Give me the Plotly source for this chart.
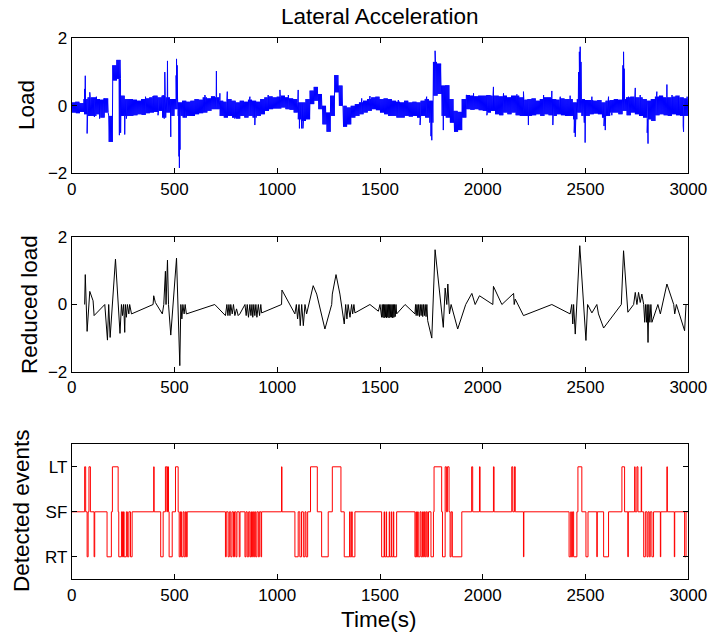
import plotly.graph_objects as go

# ---------------- data ----------------
# Load: band of the noisy trace, upper / lower edge read every 20 s
load_bin_t = list(range(0, 3000, 20))
load_hi = [
    .10, .12, .08, .20, .25, .25, .20, .18, .22, -.30, 1.20, 1.36, .30, .20, .20, .18, .15, .20, .22, .25, .30, .25, .30, .25, .20,
    .20, .10, .15, .12, .15, .20, .18, .25, .22, .28, .25, .15, .12, .20, .15, .10, .15, .12, .18, .15, .12, .20, .25, .28, .25,
    .27, .30, .25, .22, .20, .10, .10, .20, .45, .56, .35, .00, -.20, .30, .91, .60, .00, -.05, .00, .05, .10, .15, .20, .25, .27,
    .20, .22, .20, .15, .12, .10, .15, .10, .12, .10, .15, .20, .15, 1.30, 1.25, .60, .61, .20, -.15, -.18, .20, .32, .30, .28, .30,
    .30, .32, .30, .30, .28, .30, .25, .30, .30, .25, .18, .20, .22, .15, .20, .25, .25, .20, .18, .22, .20, .20, .10, .20, .20,
    .17, .17, .15, .17, .10, .15, .17, .20, .18, .20, .25, .27, .25, .25, .20, .15, .20, .27, .30, .25, .25, .27, .30, .25, .22,
]
load_lo = [
    -.20, -.22, -.18, -.25, -.30, -.30, -.25, -.35, -.20, -1.07, .75, .80, -.30, -.30, -.30, -.28, -.25, -.27, -.22, -.20, -.18, -.15, -.35, -.20, -.30,
    -.10, -.30, -.35, -.30, -.30, -.25, -.22, -.20, -.15, -.10, -.10, -.30, -.35, -.30, -.35, -.38, -.30, -.35, -.30, -.35, -.30, -.25, -.15, -.10, -.08,
    -.08, -.05, -.10, -.12, -.20, -.40, -.45, -.40, .05, .15, -.10, -.55, -.77, -.30, .40, .00, -.62, -.55, -.35, -.30, -.25, -.20, -.15, -.10, -.13,
    -.20, -.25, -.30, -.30, -.35, -.35, -.30, -.32, -.30, -.35, -.30, -.35, -.50, .30, .35, -.30, -.35, -.50, -.77, -.72, -.35, -.10, -.12, -.10, -.13,
    -.15, -.20, -.15, -.25, -.28, -.20, -.25, -.20, -.28, -.30, -.30, -.30, -.28, -.25, -.30, -.25, -.28, -.30, -.25, -.28, -.30, -.30, -.40, -.20, -.30,
    -.30, -.25, -.23, -.25, -.35, -.30, -.20, -.20, -.25, -.15, -.28, -.20, -.25, -.30, -.35, -.40, -.45, -.28, -.25, -.28, -.30, -.25, -.28, -.30, -.30,
]
load_end = 0.10
# Load: isolated spikes (time, value)
spike_t = [63, 66, 75, 88, 110, 120, 136, 157, 232, 238, 250, 258, 266, 359, 396, 420, 445, 450, 453, 466, 482,
           508, 510, 513, 518, 522, 524, 527, 550, 648, 704, 721, 757, 794, 867, 891, 956, 1013, 1054,
           1102, 1108, 1119, 1125, 1411, 1451, 1589, 1695, 1727, 1748, 1752, 1768, 1795, 1808,
           1922, 1955, 2020, 2052, 2101, 2166, 2198, 2222, 2296, 2336, 2341, 2377, 2425,
           2445, 2450, 2466, 2470, 2474, 2478, 2494, 2498, 2531, 2590, 2596, 2612, 2628,
           2682, 2685, 2688, 2709, 2742, 2766, 2800, 2804, 2847, 2896, 2921, 2953, 2975, 2977, 2994]
spike_v = [.50, .89, -.82, .40, -.33, .27, -.38, .22, -.87, -.80, .27, -.85, -.38, .27, .29, -.28, .32, -.38, 1.00, 1.33, -.92,
           .90, 1.39, 1.20, -.30, -1.50, -1.84, -1.30, -.33, .32, 1.03, .37, .42, -.38, .27, -.57, .32, .47, .32,
           .47, -.67, -.67, -.67, .22, .29, .17, -.57, .27, -.90, -1.02, 1.63, 1.16, -.72,
           .32, .37, -.28, .56, .37, .34, .42, -.57, .32, .44, -.57, .27, .30,
           -.80, -.92, 1.00, 1.60, 1.75, 1.30, -.50, -1.09, .27, -.60, -.72, .27, -.28,
           1.20, 1.60, 1.10, .27, .53, .32, -.80, -1.12, .42, .63, .32, .27, -.60, -.77, .27]

# Reduced load: (time, value) knots
red_t = [63, 66, 75, 88, 104, 109, 161, 174, 180, 187, 213, 235, 242, 247, 252, 255, 258, 261, 266, 271, 278, 282, 291,
         396, 399, 407, 441, 448, 456, 459, 466, 471, 482, 510, 526, 531, 536, 541, 547, 552, 558,
         696, 748, 755, 760, 765, 770, 774, 781, 787, 794, 802, 810, 818, 843, 849, 854, 860, 867, 872, 877, 881, 886, 891, 896, 901, 908, 914, 920, 924,
         1021, 1023, 1086, 1093, 1099, 1106, 1112, 1119, 1127, 1135, 1143, 1175, 1192, 1232, 1265, 1268, 1286, 1305, 1326, 1333, 1339, 1345, 1354, 1362, 1367, 1373, 1378,
         1451, 1492, 1500, 1508, 1511, 1514, 1517, 1520, 1523, 1526, 1529, 1532, 1535, 1538, 1541, 1544, 1547, 1550, 1553, 1556, 1559, 1562, 1565, 1568, 1571, 1574, 1578, 1581,
         1622, 1670, 1673, 1676, 1680, 1684, 1688, 1692, 1696, 1700, 1704, 1708, 1712, 1716, 1720, 1724, 1728, 1732, 1752, 1768, 1808, 1817, 1825, 1830, 1838, 1846, 1878,
         1917, 1947, 1963, 1984, 2049, 2052, 2093, 2150, 2153, 2158, 2198, 2336, 2425, 2433, 2438, 2442, 2450, 2472, 2502, 2510, 2531, 2555, 2563, 2588,
         2674, 2685, 2706, 2734, 2742, 2750, 2758, 2766, 2774, 2783, 2788, 2792, 2797, 2800, 2804, 2808, 2813, 2818, 2823, 2852, 2864, 2896, 2929, 2934, 2942, 2982, 2989, 3000]
red_v = [0.0, 0.89, -0.80, 0.39, 0.11, -0.33, 0.0, -1.06, 0.0, -0.98, 1.35, -0.86, 0.0, -0.33, 0.0, -0.33, -0.83, 0.0, -0.38, 0.0, -0.28, 0.0, -0.28,
         0.0, 0.26, 0.06, -0.28, 0.0, 0.99, 0.0, 1.32, 0.0, -0.91, 1.38, -1.82, 0.0, -0.43, 0.0, -0.28, 0.0, -0.28,
         0.0, -0.33, 0.0, -0.33, 0.0, -0.33, 0.0, -0.28, 0.0, -0.33, -0.13, -0.33, -0.28, 0.0, -0.33, 0.0, -0.38, 0.0, -0.33, 0.0, -0.38, 0.0, -0.33, 0.0, -0.38, 0.0, -0.33, 0.0, -0.25,
         0.0, 0.43, -0.28, 0.0, -0.43, 0.0, -0.63, 0.0, -0.63, 0.0, -0.28, 0.56, 0.31, -0.73, 0.0, 0.31, 0.89, 0.31, -0.58, 0.0, -0.43, 0.0, -0.38, 0.0, -0.28, 0.0, -0.25,
         0.0, -0.20, 0.0, -0.38, 0.0, -0.38, 0.0, -0.40, 0.0, -0.38, 0.0, -0.40, 0.0, -0.38, 0.0, -0.40, 0.0, -0.38, 0.0, -0.38, 0.0, -0.40, 0.0, -0.38, 0.0, -0.36, 0.0, -0.28,
         0.0, -0.28, 0.0, -0.33, 0.0, -0.33, 0.0, -0.36, 0.0, -0.33, 0.0, -0.36, 0.0, -0.33, 0.0, -0.36, 0.0, -0.48, -1.00, 1.63, -0.68, 0.49, 0.0, 0.61, -0.28, 0.0, -0.73,
         0.0, 0.33, 0.0, 0.26, 0.0, 0.54, 0.0, 0.33, 0.0, 0.16, -0.33, 0.0, -0.28, 0.0, -0.58, 0.0, -0.88, 1.75, -1.07, 0.0, -0.25, 0.0, -0.28, -0.70,
         0.0, 1.60, -0.23, 0.0, 0.36, 0.0, 0.36, 0.06, 0.31, 0.0, -0.53, 0.0, -0.53, 0.0, -1.13, 0.0, -0.53, 0.0, -0.53, 0.0, -0.28, 0.61, 0.0, -0.28, 0.0, -0.78, 0.0, 0.0]

# Detected events: start, end, level (1 = LT, 0 = SF, -1 = RT)
ev_start = [63, 75, 84, 109, 172, 198, 229, 247, 255, 271, 286, 399, 433, 456, 466, 474, 505, 523, 534, 547, 558,
            748, 761, 774, 787, 799, 815, 843, 854, 867, 875, 885, 895, 908, 921, 1021, 1086, 1110, 1127, 1140,
            1162, 1216, 1268, 1326, 1355, 1365,
            1508, 1522, 1532, 1547, 1557, 1567, 1670, 1677, 1686, 1700, 1711, 1720, 1730, 1748, 1763, 1804, 1817, 1828,
            1841, 1852, 1946, 1984, 2052, 2141, 2154, 2198, 2420, 2431, 2442, 2463, 2502, 2555, 2588, 2677, 2706,
            2739, 2750, 2771, 2783, 2799, 2810, 2823, 2864, 2896, 2932, 2982]
ev_end = [68, 80, 91, 112, 193, 226, 242, 252, 266, 278, 294, 401, 445, 463, 471, 489, 518, 529, 542, 553, 562,
          752, 767, 780, 792, 804, 819, 848, 861, 872, 880, 890, 901, 913, 924, 1023, 1102, 1118, 1135, 1148,
          1195, 1248, 1310, 1352, 1362, 1378,
          1520, 1530, 1545, 1555, 1565, 1581, 1675, 1683, 1695, 1707, 1716, 1725, 1736, 1760, 1800, 1817, 1823, 1836,
          1846, 1898, 1951, 1987, 2055, 2146, 2158, 2200, 2428, 2437, 2458, 2482, 2512, 2557, 2612, 2690, 2708,
          2741, 2755, 2773, 2791, 2804, 2815, 2831, 2866, 2898, 2934, 2989]
ev_level = [1, -1, 1, -1, -1, 1, -1, -1, -1, -1, -1, 1, -1, 1, 1, -1, 1, -1, -1, -1, -1,
            -1, -1, -1, -1, -1, -1, -1, -1, -1, -1, -1, -1, -1, -1, 1, -1, -1, -1, -1,
            1, -1, 1, -1, -1, -1,
            -1, -1, -1, -1, -1, -1, -1, -1, -1, -1, -1, -1, -1, -1, 1, -1, 1, 1,
            -1, -1, 1, 1, 1, 1, 1, -1, -1, -1, -1, 1, -1, -1, -1, 1, -1,
            1, 1, 1, -1, -1, -1, -1, -1, 1, -1, -1]

x_ticks = [0, 500, 1000, 1500, 2000, 2500, 3000]
event_ticks = [-1, 0, 1]
event_labels = ["RT", "SF", "LT"]

# ---------------- build traces ----------------
pts = []
for t, h, l in zip(load_bin_t, load_hi, load_lo):
    for k in range(4):
        pts.append((t + 5 * k, h))
        pts.append((t + 5 * k + 2.5, l))
pts += list(zip(spike_t, spike_v))
pts.append((3000, load_end))
pts.sort(key=lambda p: p[0])
lx = [p[0] for p in pts]
ly = [p[1] for p in pts]

sx, sy = [0], [0]
for s, e, v in zip(ev_start, ev_end, ev_level):
    sx += [s, s, e, e]
    sy += [0, v, v, 0]
sx.append(3000)
sy.append(0)

FONT = "Liberation Sans, Arial, Helvetica, sans-serif"

fig = go.Figure()
fig.add_trace(go.Scatter(x=lx, y=ly, mode="lines",
                         line=dict(color="#0000ff", width=1, simplify=False),
                         xaxis="x", yaxis="y", showlegend=False))
fig.add_trace(go.Scatter(x=red_t, y=red_v, mode="lines",
                         line=dict(color="#000000", width=1, simplify=False),
                         xaxis="x2", yaxis="y2", showlegend=False))
fig.add_trace(go.Scatter(x=sx, y=sy, mode="lines",
                         line=dict(color="#ff0000", width=1, simplify=False),
                         xaxis="x3", yaxis="y3", showlegend=False))

xdom = [71.7 / 710, 688.3 / 710]
def ydom(top, bot):
    return [(635 - bot) / 635, (635 - top) / 635]

common = dict(showline=True, linecolor="black", linewidth=1, mirror="ticks", ticks="inside",
              ticklen=5, tickcolor="black", showgrid=False, zeroline=False,
              tickfont=dict(size=17, color="black", family=FONT), automargin=False)

xcommon = dict(common, range=[0, 3000], tickvals=x_ticks, domain=xdom)

TSIZE = 22.5
fig.update_layout(
    width=710, height=635,
    margin=dict(l=0, r=0, t=0, b=0),
    paper_bgcolor="white", plot_bgcolor="white",
    font=dict(family=FONT, color="black"),
    xaxis=dict(xcommon, anchor="y"),
    yaxis=dict(common, range=[-2, 2], tickvals=[-2, 0, 2], domain=ydom(38.3, 173.3), anchor="x"),
    xaxis2=dict(xcommon, anchor="y2"),
    yaxis2=dict(common, range=[-2, 2], tickvals=[-2, 0, 2], domain=ydom(237.3, 371.7), anchor="x2"),
    xaxis3=dict(xcommon, anchor="y3"),
    yaxis3=dict(common, range=[-1.5, 1.5], tickvals=event_ticks, ticktext=event_labels,
                domain=ydom(444.3, 579.3), anchor="x3"),
    annotations=[
        dict(text="Lateral Acceleration", x=380 / 710, y=1 - 16 / 635, xref="paper", yref="paper",
             showarrow=False, font=dict(size=TSIZE, family=FONT), xanchor="center", yanchor="middle"),
        dict(text="Load", x=26 / 710, y=1 - 105 / 635, xref="paper", yref="paper", textangle=-90,
             showarrow=False, font=dict(size=TSIZE, family=FONT), xanchor="center", yanchor="middle"),
        dict(text="Reduced load", x=29 / 710, y=1 - 305 / 635, xref="paper", yref="paper", textangle=-90,
             showarrow=False, font=dict(size=TSIZE, family=FONT), xanchor="center", yanchor="middle"),
        dict(text="Detected events", x=22 / 710, y=1 - 511 / 635, xref="paper", yref="paper", textangle=-90,
             showarrow=False, font=dict(size=TSIZE, family=FONT), xanchor="center", yanchor="middle"),
        dict(text="Time(s)", x=379 / 710, y=1 - 619 / 635, xref="paper", yref="paper",
             showarrow=False, font=dict(size=TSIZE, family=FONT), xanchor="center", yanchor="middle"),
    ],
)

fig.write_html("out.html")
